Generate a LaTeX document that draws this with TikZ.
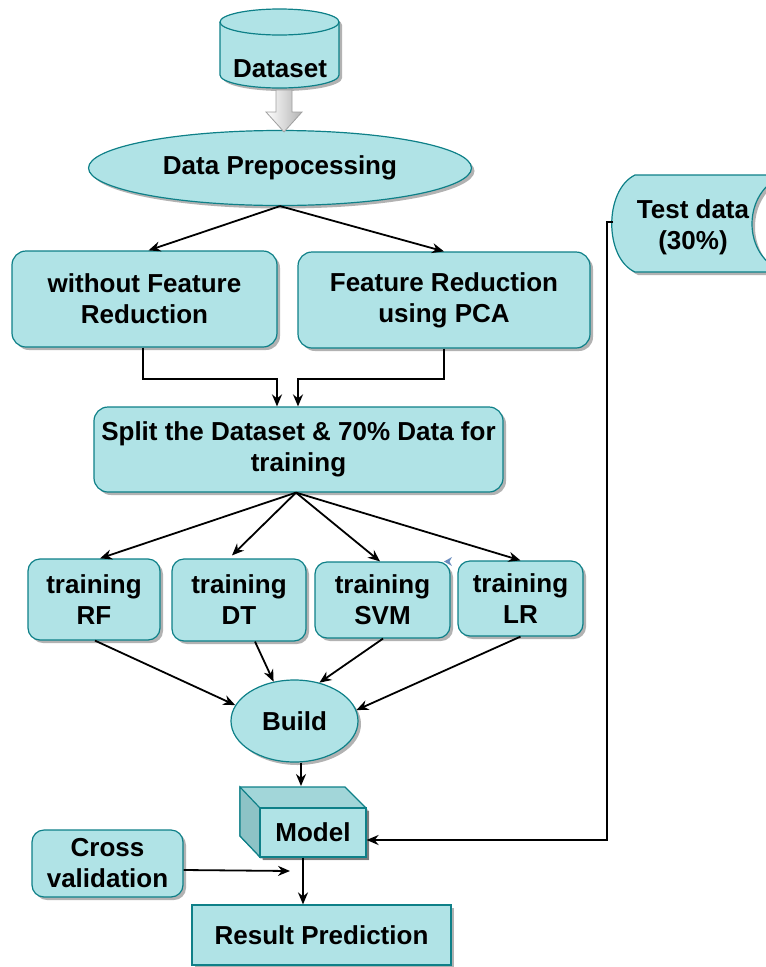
\documentclass[tikz,border=0pt]{standalone}
\usepackage{fontspec}
\setmainfont{Liberation Sans}
\usetikzlibrary{shapes.geometric,shadows,arrows.meta,calc}
\definecolor{tfill}{HTML}{B0E3E6}
\definecolor{tline}{HTML}{0E8088}
\definecolor{ttop}{HTML}{A2D6D9}
\definecolor{tside}{HTML}{8DC3C6}
\definecolor{stray}{HTML}{6C8EBF}
\tikzset{
  shad/.style={drop shadow={shadow xshift=3pt,shadow yshift=-3pt,opacity=0.3,fill=black}},
  base/.style={draw=tline, fill=tfill, line width=1.2pt, font=\fontsize{26}{31}\selectfont\bfseries, align=center, inner sep=0pt, shad},
  rbox/.style={base, rectangle, rounded corners=14pt},
  sbox/.style={base, rectangle},
  ebox/.style={base, ellipse},
  lbl/.style={font=\fontsize{26}{31}\selectfont\bfseries, align=center, inner sep=0pt},
  arr/.style={-{Stealth[length=12pt,width=10pt]}, line width=1.8pt, black}
}
\begin{document}
\begin{tikzpicture}[x=1pt,y=-1pt]
\useasboundingbox (0,0) rectangle (766,967);
\clip (0,0) rectangle (766,967);

% Dataset cylinder
\path[draw=tline, fill=tfill, line width=1.2pt, shad]
  (220,22) -- (220,75) arc[start angle=180,end angle=360,x radius=59.5pt,y radius=13pt]
  -- (339,22) arc[start angle=0,end angle=180,x radius=59.5pt,y radius=13pt] -- cycle;
\draw[tline, line width=1.2pt] (220,22) arc[start angle=180,end angle=360,x radius=59.5pt,y radius=13pt];
\node[lbl] (ds) at (280,69) {Dataset};
\coordinate (dsbot) at (284,89);

% Data preprocessing
\node[ebox, minimum width=383pt, minimum height=75pt] (pre) at (280,168) {Data Prepocessing};

% block arrow
\shade[left color=white, right color=gray!60, draw=gray!75, line width=0.8pt]
  ($(dsbot)+(-8,1)$) -- ($(dsbot)+(8,1)$) -- ($(dsbot)+(8,23)$) -- ($(dsbot)+(18,23)$)
  -- ($(pre.north)+(4,2)$) -- ($(dsbot)+(-18,23)$) -- ($(dsbot)+(-8,23)$) -- cycle;

% feature boxes
\node[rbox, minimum width=265pt, minimum height=96pt] (nofr) at (144.5,299) {without Feature\\Reduction};
\node[rbox, minimum width=292pt, minimum height=96pt] (pca) at (444,300) {Feature Reduction\\using PCA};
\draw[arr] (pre.south) -- ([xshift=4pt]nofr.north);
\draw[arr] (pre.south) -- (pca.north);

% split
\node[rbox, minimum width=409pt, minimum height=85pt] (split) at (298.5,449.5) {Split the Dataset \& 70\% Data for\\training};
\draw[arr] ([xshift=-1.5pt]nofr.south) -- ++(0,31) -| ([xshift=-21.5pt]split.north);
\draw[arr] (pca.south) -- ++(0,30) -| ([xshift=-0.5pt]split.north);

% training boxes
\node[rbox, rounded corners=12pt, minimum width=132pt, minimum height=81pt] (rf) at (94,599.5) {training\\RF};
\node[rbox, rounded corners=12pt, minimum width=134pt, minimum height=82pt] (dt) at (239,600) {training\\DT};
\node[rbox, rounded corners=12pt, minimum width=135pt, minimum height=76pt] (svm) at (382.5,600) {training\\SVM};
\node[rbox, rounded corners=12pt, minimum width=125pt, minimum height=75pt] (lr) at (520.5,598.5) {training\\LR};
\coordinate (sp) at ([xshift=-2.5pt]split.south);
\draw[arr] (sp) -- ([xshift=6pt]rf.north);
\draw[arr] (sp) -- ([xshift=-7pt,yshift=3pt]dt.north);
\draw[arr] (sp) -- ([xshift=-2.5pt]svm.north);
\draw[arr] (sp) -- (lr.north);
\fill[stray] (444,561.5) -- (452,557) -- (449.5,561.5) -- (452,566) -- cycle;

% build
\node[ebox, minimum width=127pt, minimum height=82pt] (build) at (294.5,721) {Build};
\draw[arr] ([xshift=1pt]rf.south) -- (build.165);
\draw[arr] ([xshift=16pt]dt.south) -- (build.118);
\draw[arr] ([xshift=0.5pt]svm.south) -- (build.57);
\draw[arr] (lr.south) -- (build.10);

% model cube
\path[draw=tline, fill=ttop, line width=1.2pt, shad] (240,787) -- (345,787) -- (366,808) -- (366,857) -- (260,857) -- (240,836) -- cycle;
\path[draw=tline, fill=tside, line width=1.2pt] (240,787) -- (260,808) -- (260,857) -- (240,836) -- cycle;
\node[sbox, minimum width=106pt, minimum height=49pt, drop shadow={opacity=0}] (model) at (313,832.5) {Model};
\coordinate (mtop) at (301,786);
\draw[arr] ([xshift=6.5pt]build.south) -- (mtop);

% test data (stored data shape)
\path[draw=tline, fill=tfill, line width=1.2pt, shad]
  (635,175) -- (785,175) .. controls (741,190) and (741,258) .. (785,272)
  -- (635,272) .. controls (604,258) and (604,190) .. (635,175) -- cycle;
\node[lbl] (test) at (693,227) {Test data\\(30\%)};
\coordinate (testl) at (613,222);
\draw[arr] (testl) -- ++(-6,0) |- ([yshift=-7.5pt]model.east);

% cross validation
\node[rbox, rounded corners=12pt, minimum width=151pt, minimum height=67pt] (cv) at (107.5,863.5) {Cross\\validation};
\coordinate (cvend) at (290,871);
\draw[arr] ([yshift=-6.5pt]cv.east) -- (cvend);

% result
\node[sbox, minimum width=259pt, minimum height=60pt] (res) at (321.5,935) {Result Prediction};
\draw[arr] ([xshift=-10pt]model.south) -- ([xshift=-10pt]model.south |- res.north);
\end{tikzpicture}
\end{document}
